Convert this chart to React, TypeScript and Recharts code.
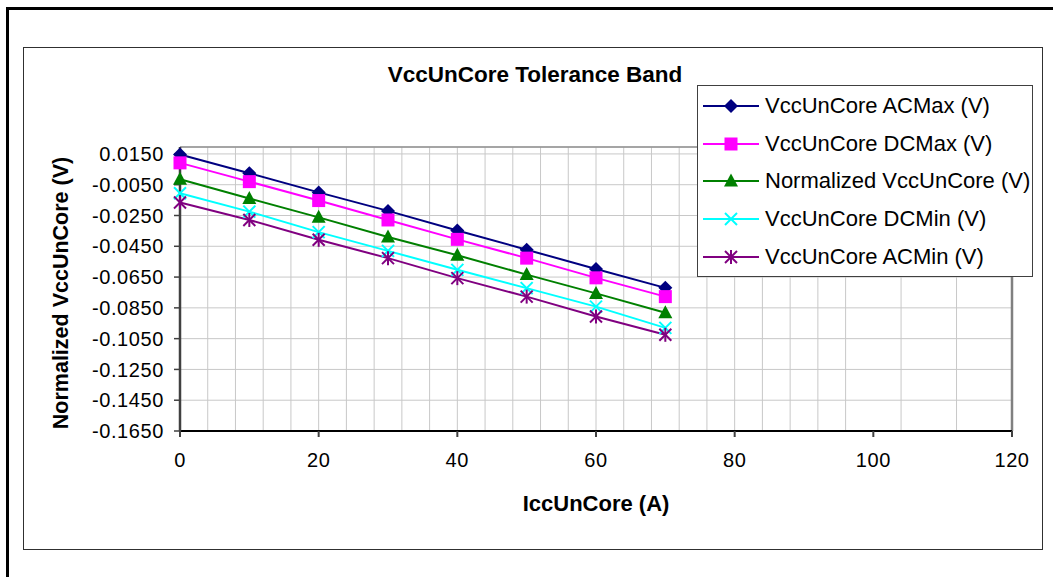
import React from "react";
import {
  CartesianGrid,
  Line,
  LineChart,
  ReferenceLine,
  XAxis,
  YAxis,
} from "recharts";

const current = [0, 10, 20, 30, 40, 50, 60, 70];
const acMax = [0.0146, 0.0025, -0.01, -0.022, -0.0348, -0.0472, -0.0598, -0.072];
const dcMax = [0.0092, -0.003, -0.0153, -0.0279, -0.0405, -0.0527, -0.0655, -0.0777];
const normalized = [-0.0014, -0.014, -0.0262, -0.039, -0.0508, -0.0634, -0.0756, -0.0882];
const dcMin = [-0.0105, -0.0225, -0.0358, -0.048, -0.0603, -0.0722, -0.0842, -0.098];
const acMin = [-0.0166, -0.0279, -0.0408, -0.0527, -0.0657, -0.0777, -0.0906, -0.1025];

const yTicks = [-0.165, -0.145, -0.125, -0.105, -0.085, -0.065, -0.045, -0.025, -0.005, 0.015];
const xTicks = [0, 20, 40, 60, 80, 100, 120];
const xGridTicks = [0, 4, 8, 12, 16, 20, 24, 28, 32, 36, 40, 44, 48, 52, 56, 60, 64, 68, 72, 76, 80, 84, 88, 92, 96, 100, 104, 108, 112, 116, 120];
const yMax = 0.0195;
const yMin = -0.165;

type Shape = "diamond" | "square" | "triangle" | "x" | "star";

const series: { key: string; name: string; color: string; shape: Shape }[] = [
  { key: "acMax", name: "VccUnCore ACMax (V)", color: "#000080", shape: "diamond" },
  { key: "dcMax", name: "VccUnCore DCMax (V)", color: "#ff00ff", shape: "square" },
  { key: "norm", name: "Normalized VccUnCore (V)", color: "#008000", shape: "triangle" },
  { key: "dcMin", name: "VccUnCore DCMin (V)", color: "#00ffff", shape: "x" },
  { key: "acMin", name: "VccUnCore ACMin (V)", color: "#800080", shape: "star" },
];

const data = current.map((c, i) => ({
  i: c,
  acMax: acMax[i],
  dcMax: dcMax[i],
  norm: normalized[i],
  dcMin: dcMin[i],
  acMin: acMin[i],
}));

const FONT = "'Liberation Sans', Arial, sans-serif";

function Marker({ cx, cy, shape, color }: { cx: number; cy: number; shape: Shape; color: string }) {
  if (cx == null || cy == null) return null;
  switch (shape) {
    case "diamond":
      return (
        <polygon
          points={`${cx},${cy - 7} ${cx + 7},${cy} ${cx},${cy + 7} ${cx - 7},${cy}`}
          fill={color}
        />
      );
    case "square":
      return <rect x={cx - 6.5} y={cy - 6.5} width={13} height={13} fill={color} />;
    case "triangle":
      return (
        <polygon
          points={`${cx},${cy - 7.5} ${cx + 7},${cy + 5.5} ${cx - 7},${cy + 5.5}`}
          fill={color}
        />
      );
    case "x":
      return (
        <g stroke={color} strokeWidth={2}>
          <line x1={cx - 6} y1={cy - 6} x2={cx + 6} y2={cy + 6} />
          <line x1={cx - 6} y1={cy + 6} x2={cx + 6} y2={cy - 6} />
        </g>
      );
    default:
      return (
        <g stroke={color} strokeWidth={2}>
          <line x1={cx - 6} y1={cy - 6} x2={cx + 6} y2={cy + 6} />
          <line x1={cx - 6} y1={cy + 6} x2={cx + 6} y2={cy - 6} />
          <line x1={cx} y1={cy - 7} x2={cx} y2={cy + 7} />
        </g>
      );
  }
}

function ChartLegend() {
  return (
    <div
      style={{
        position: "absolute",
        left: 697,
        top: 85,
        width: 336,
        height: 192,
        boxSizing: "border-box",
        border: "1px solid #404040",
        background: "#fff",
        fontFamily: FONT,
        fontSize: 22,
        color: "#000",
        overflow: "hidden",
      }}
    >
      {series.map((s, idx) => (
        <div
          key={s.key}
          style={{
            position: "absolute",
            left: 0,
            top: 20 + idx * 37.7 - 13,
            height: 26,
            display: "flex",
            alignItems: "center",
            whiteSpace: "nowrap",
          }}
        >
          <svg width={62} height={26} style={{ marginLeft: 5 }}>
            <line x1={0} y1={13} x2={56} y2={13} stroke={s.color} strokeWidth={2} />
            <Marker cx={28} cy={13} shape={s.shape} color={s.color} />
          </svg>
          <span>{s.name}</span>
        </div>
      ))}
    </div>
  );
}

export default function App() {
  return (
    <div
      style={{
        position: "absolute",
        left: 0,
        top: 0,
        width: 1053,
        height: 577,
        background: "#fff",
        overflow: "hidden",
      }}
    >
      <div
        style={{
          position: "absolute",
          left: 6,
          top: 7,
          width: 1100,
          height: 620,
          border: "3px solid #000",
        }}
      />
      <div
        style={{
          position: "absolute",
          left: 23,
          top: 47,
          width: 1020,
          height: 503,
          boxSizing: "border-box",
          border: "1.5px solid #303030",
        }}
      />
      <div style={{ position: "absolute", left: 0, top: 0 }}>
        <LineChart
          width={1053}
          height={577}
          data={data}
          margin={{ top: 147, right: 41, bottom: 106, left: 80 }}
        >
          <XAxis xAxisId="grid" type="number" dataKey="i" domain={[0, 120]} ticks={xGridTicks} hide />
          <CartesianGrid xAxisId="grid" stroke="#c8c8c8" strokeWidth={1} />
          <XAxis
            type="number"
            dataKey="i"
            domain={[0, 120]}
            ticks={xTicks}
            interval={0}
            height={40}
            tickSize={6}
            tickMargin={16}
            axisLine={{ stroke: "#000", strokeWidth: 2 }}
            tickLine={{ stroke: "#404040", strokeWidth: 2 }}
            tick={{ fill: "#000", fontSize: 20, fontFamily: FONT, letterSpacing: 0.6 }}
          />
          <YAxis
            type="number"
            domain={[yMin, yMax]}
            ticks={yTicks}
            interval={0}
            width={100}
            tickSize={6}
            tickMargin={10}
            tickFormatter={(v: number) => v.toFixed(4)}
            axisLine={{ stroke: "#404040", strokeWidth: 2.5 }}
            tickLine={{ stroke: "#404040", strokeWidth: 1.5 }}
            tick={{ fill: "#000", fontSize: 20, fontFamily: FONT, letterSpacing: 0.6 }}
          />
          <ReferenceLine y={yMax} stroke="#909090" strokeWidth={1.5} />
          <ReferenceLine x={120} stroke="#808080" strokeWidth={2.5} />
          {series.map((s) => (
            <Line
              key={s.key}
              type="linear"
              dataKey={s.key}
              name={s.name}
              stroke={s.color}
              strokeWidth={2}
              isAnimationActive={false}
              dot={(p: any) => (
                <Marker key={`${s.key}-${p.index}`} cx={p.cx} cy={p.cy} shape={s.shape} color={s.color} />
              )}
              activeDot={false}
            />
          ))}
        </LineChart>
      </div>
      <div
        style={{
          position: "absolute",
          left: 335,
          top: 62,
          width: 400,
          textAlign: "center",
          fontFamily: FONT,
          fontWeight: "bold",
          fontSize: 22.5,
        }}
      >
        VccUnCore Tolerance Band
      </div>
      <div
        style={{
          position: "absolute",
          left: 396,
          top: 491,
          width: 400,
          textAlign: "center",
          fontFamily: FONT,
          fontWeight: "bold",
          fontSize: 22,
        }}
      >
        IccUnCore (A)
      </div>
      <div
        style={{
          position: "absolute",
          left: 61 - 200,
          top: 293 - 13,
          width: 400,
          height: 26,
          lineHeight: "26px",
          textAlign: "center",
          transform: "rotate(-90deg)",
          fontFamily: FONT,
          fontWeight: "bold",
          fontSize: 21.5,
        }}
      >
        Normalized VccUnCore (V)
      </div>
      <ChartLegend />
    </div>
  );
}
